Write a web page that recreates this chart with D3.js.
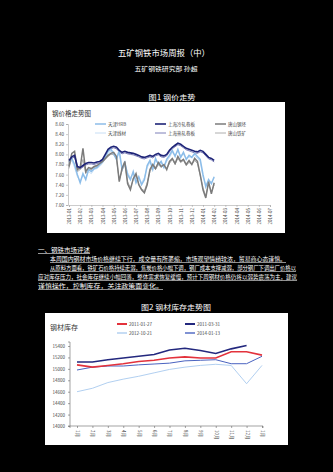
<!DOCTYPE html>
<html>
<head>
<meta charset="utf-8">
<script src="https://cdn.jsdelivr.net/npm/d3@7"></script>
<style>
body { margin: 0; background: #000; }
svg { display: block; }
text { font-family: "Noto Sans CJK SC", "Noto Sans", sans-serif; }
</style>
</head>
<body>
<div id="page"></div>
<script>
// ---- chart 1 data: weekly prices (log scale values) ----
const priceTicks = [8.6, 8.4, 8.2, 8.0, 7.8, 7.6, 7.4, 7.2, 7.0];
const monthLabels = ["2013-01","2013-02","2013-03","2013-04","2013-05","2013-06","2013-07","2013-08","2013-09","2013-10",
  "2013-11","2013-12","2014-01","2014-02","2014-03","2014-04","2014-05","2014-06","2014-07"];
const seriesNames = ["天津HRB", "上海冷轧卷板", "唐山钢坯", "天津线材", "上海热轧卷板", "唐山铁矿"];
const shanghaiCold = [7.88,7.95,7.98,7.76,7.74,7.78,7.82,7.84,7.84,7.83,7.85,7.86,7.90,8.00,8.10,8.14,8.16,8.14,8.08,8.04,
  8.06,8.04,8.03,8.02,8.00,7.98,7.95,7.94,7.96,7.98,7.96,8.00,8.02,7.98,7.97,8.00,8.08,8.14,8.18,8.22,
  8.20,8.16,8.12,8.10,8.08,8.06,8.05,8.08,8.06,8.00,7.94,7.92,7.88];
const shanghaiHot = [7.85,7.92,7.95,7.73,7.71,7.75,7.79,7.81,7.81,7.80,7.82,7.83,7.87,7.97,8.07,8.11,8.13,8.11,8.05,8.01,
  8.03,8.01,8.00,7.99,7.97,7.95,7.92,7.91,7.93,7.95,7.93,7.97,7.99,7.95,7.94,7.97,8.05,8.11,8.15,8.19,
  8.17,8.13,8.09,8.07,8.05,8.03,8.02,8.05,8.03,7.97,7.91,7.89,7.85];
const tianjinHRB = [7.84,7.92,7.80,7.60,7.44,7.62,7.50,7.70,7.66,7.72,7.74,7.80,7.86,7.96,8.06,8.10,8.02,7.90,8.08,7.70,
  7.84,7.60,7.50,7.66,7.44,7.56,7.40,7.50,7.78,7.88,7.70,7.92,7.80,7.86,7.74,7.90,7.98,8.08,7.96,8.10,
  7.94,8.04,7.90,7.98,7.94,8.02,7.96,7.90,7.60,7.36,7.50,7.42,7.56];
const tianjinWire = [7.80,7.88,7.74,7.56,7.48,7.58,7.54,7.66,7.62,7.70,7.72,7.76,7.82,7.92,8.02,8.06,7.98,7.94,8.02,7.74,
  7.80,7.64,7.54,7.62,7.48,7.52,7.44,7.54,7.74,7.84,7.74,7.88,7.84,7.82,7.78,7.86,7.94,8.04,7.98,8.06,
  7.98,8.00,7.92,7.94,7.96,7.98,7.92,7.86,7.56,7.40,7.46,7.46,7.52];
const tangshanBillet = [7.76,8.02,8.06,7.70,7.74,8.12,7.66,7.74,7.72,7.76,7.78,7.82,7.86,7.92,7.98,8.02,8.04,7.96,7.46,7.72,
  7.86,7.42,7.30,7.52,7.62,7.40,7.30,7.24,7.40,7.70,7.80,7.72,7.84,7.76,7.80,7.70,7.86,7.92,7.82,7.96,
  7.86,7.90,7.80,7.88,7.80,7.92,7.86,7.60,7.30,7.14,7.46,7.22,7.44];
const tangshanOre = [7.72,7.96,8.00,7.66,7.70,7.90,7.62,7.70,7.70,7.74,7.76,7.80,7.84,7.90,7.96,8.00,8.00,7.90,7.50,7.68,
  7.80,7.46,7.34,7.50,7.58,7.42,7.32,7.28,7.44,7.66,7.76,7.70,7.80,7.74,7.78,7.72,7.82,7.90,7.80,7.92,
  7.84,7.88,7.78,7.84,7.80,7.88,7.82,7.58,7.34,7.18,7.42,7.26,7.40];

// ---- chart 2 data: inventory ----
const stockTicks = [15400, 15200, 15000, 14800, 14600, 14400, 14200, 14000];
const stockCats = ["1月","2月","3月","4月","5月","6月","7月","8月","9月","10月","11月","12月","1月"];
const stockNames = ["2011-01-27", "2011-03-31", "2012-10-21", "2014-01-13"];
const stockA = [15070,15030,15060,15090,15130,15150,15190,15210,15190,15190,15300,15300,15240];
const stockB = [15120,15120,15160,15190,15220,15250,15330,15360,15320,15270,15350,15410];
const stockC = [14600,14660,14760,14820,14870,14930,14990,15030,15060,15080,15060,14740,15060];
const stockD = [14980,15030,15050,15050,15070,15085,15100,15140,15150,15160,15090,15090,15220];

const W = 333, H = 472;
const svg = d3.select("#page").append("svg").attr("width", W).attr("height", H);
svg.append("rect").attr("width", W).attr("height", H).attr("fill", "#000");

// header text
function txt(x, y, s, size, opts = {}) {
  const t = svg.append("text").attr("x", x).attr("y", y).text(s)
    .attr("font-size", size).attr("fill", opts.fill || "#fff")
    .attr("text-anchor", opts.anchor || "start");
  if (opts.len) t.attr("textLength", opts.len).attr("lengthAdjust", "spacingAndGlyphs");
  if (opts.bold) t.attr("font-weight", "bold");
  if (opts.underline) t.style("text-decoration", "underline");
  return t;
}
txt(164, 56, "五矿钢铁市场周报（中）", 8.5, { anchor: "middle", len: 92 });
txt(166, 71, "五矿钢铁研究部   孙超", 6, { anchor: "middle", len: 63 });
txt(172, 100, "图1   钢价走势", 7, { anchor: "middle", len: 47 });

// paragraph
txt(38, 252, "一、钢铁市场评述", 6, { len: 52, underline: true });
txt(50, 261, "本周国内钢材市场价格继续下行，成交量有所萎缩，市场观望情绪较浓，贸易商心态谨慎。", 5.6, { len: 236, underline: true });
txt(50, 270, "从原料方面看，铁矿石价格持续走弱，焦炭价格小幅下调，钢厂成本支撑减弱，部分钢厂下调出厂价格以", 5.6, { len: 246, underline: true });
txt(38, 279, "应对库存压力，社会库存继续小幅回落，整体需求恢复缓慢，预计下周钢材价格仍将以弱势震荡为主，建议", 5.6, { len: 259, underline: true });
txt(38, 288, "谨慎操作，控制库存，关注政策面变化。", 5.6, { len: 125, underline: true });
txt(176, 310, "图2   钢材库存走势图", 7, { anchor: "middle", len: 70 });

// ---------------- chart 1 ----------------
const c1 = svg.append("g");
c1.append("rect").attr("x", 47).attr("y", 102).attr("width", 238).attr("height", 131).attr("fill", "#fff");
c1.append("text").attr("x", 52).attr("y", 116).text("钢价格走势图").attr("font-size", 6.5).attr("fill", "#333");

const x1 = d3.scaleLinear().domain([0, monthLabels.length - 1]).range([69, 270]);
const y1 = d3.scaleLinear().domain([7.0, 8.6]).range([205, 124]);

const yAxis1 = c1.append("g").attr("transform", "translate(68,0)")
  .call(d3.axisLeft(y1).tickValues(priceTicks).tickFormat(d3.format(".2f")).tickSize(2).tickPadding(2));
yAxis1.selectAll("text").attr("font-size", 4.5).attr("fill", "#444");
yAxis1.selectAll("line,path").attr("stroke", "#999").attr("stroke-width", 0.5);

const xAxis1 = c1.append("g").attr("transform", "translate(0,205)")
  .call(d3.axisBottom(x1).tickValues(d3.range(monthLabels.length)).tickFormat(i => monthLabels[i]).tickSize(2));
xAxis1.selectAll("line,path").attr("stroke", "#999").attr("stroke-width", 0.5);
xAxis1.selectAll("text").attr("font-size", 4.5).attr("fill", "#444")
  .attr("text-anchor", "end").attr("transform", "rotate(-90)").attr("x", -3).attr("y", 0).attr("dy", "0.35em");

const line1 = d3.line().x((d, i) => x1(i / 4)).y(d => y1(d));
const series1 = [
  { v: tianjinWire, c: "#b9d6f2", w: 0.8 },
  { v: shanghaiHot, c: "#5b5ea6", w: 0.8 },
  { v: tangshanOre, c: "#9a9a9a", w: 0.8 },
  { v: tianjinHRB, c: "#8cbde9", w: 1.5 },
  { v: tangshanBillet, c: "#7b7b7b", w: 1.5 },
  { v: shanghaiCold, c: "#1d2377", w: 1.6 }
];
c1.selectAll("path.s").data(series1).join("path").attr("class", "s")
  .attr("d", d => line1(d.v)).attr("fill", "none")
  .attr("stroke", d => d.c).attr("stroke-width", d => d.w);

// legend chart 1
const leg1 = [
  { n: seriesNames[0], c: "#8cbde9", w: 1.5 },
  { n: seriesNames[1], c: "#1d2377", w: 1.6 },
  { n: seriesNames[2], c: "#7b7b7b", w: 1.5 },
  { n: seriesNames[3], c: "#b9d6f2", w: 0.8 },
  { n: seriesNames[4], c: "#5b5ea6", w: 0.8 },
  { n: seriesNames[5], c: "#9a9a9a", w: 0.8 }
];
const legX1 = [95, 155, 215], legY1 = [124, 133];
leg1.forEach((d, i) => {
  const lx = legX1[i % 3], ly = legY1[Math.floor(i / 3)];
  c1.append("line").attr("x1", lx).attr("x2", lx + 11).attr("y1", ly).attr("y2", ly)
    .attr("stroke", d.c).attr("stroke-width", d.w);
  c1.append("text").attr("x", lx + 13).attr("y", ly + 1.6).text(d.n)
    .attr("font-size", 4.5).attr("fill", "#444");
});

// ---------------- chart 2 ----------------
const c2 = svg.append("g");
c2.append("rect").attr("x", 45).attr("y", 313).attr("width", 243).attr("height", 132).attr("fill", "#fff");
c2.append("text").attr("x", 50).attr("y", 330).text("钢材库存").attr("font-size", 7).attr("fill", "#333");

const x2 = d3.scalePoint().domain(d3.range(stockCats.length)).range([77, 262]);
const y2 = d3.scaleLinear().domain([14000, 15400]).range([426, 346]);

const yAxis2 = c2.append("g").attr("transform", "translate(70,0)")
  .call(d3.axisLeft(y2).tickValues(stockTicks).tickFormat(d3.format("d")).tickSize(2).tickPadding(3));
yAxis2.select("path").attr("d", "M-2,342H0V426H-2");
yAxis2.selectAll("text").attr("font-size", 4.5).attr("fill", "#444");
yAxis2.selectAll("line,path").attr("stroke", "#666").attr("stroke-width", 0.6);

const xAxis2 = c2.append("g").attr("transform", "translate(0,426)")
  .call(d3.axisBottom(x2).tickFormat(i => stockCats[i]).tickSize(2));
xAxis2.select("path").attr("d", "M70,2V0H263V2");
xAxis2.selectAll("line,path").attr("stroke", "#666").attr("stroke-width", 0.6);
xAxis2.selectAll("text").attr("font-size", 4.5).attr("fill", "#444")
  .attr("text-anchor", "start").attr("transform", "rotate(90)").attr("x", 4).attr("y", 0).attr("dy", "0.35em");

const line2 = d3.line().x((d, i) => x2(i)).y(d => y2(d));
const series2 = [
  { n: stockNames[2], v: stockC, c: "#a8c9ee", w: 0.9 },
  { n: stockNames[3], v: stockD, c: "#4a63c0", w: 1.0 },
  { n: stockNames[0], v: stockA, c: "#e3323c", w: 1.6 },
  { n: stockNames[1], v: stockB, c: "#23287e", w: 1.6 }
];
c2.selectAll("path.s").data(series2).join("path").attr("class", "s")
  .attr("d", d => line2(d.v)).attr("fill", "none")
  .attr("stroke", d => d.c).attr("stroke-width", d => d.w);

const legX2 = [117, 185], legY2 = [324, 333];
const leg2 = [series2[2], series2[3], series2[0], series2[1]];
leg2.forEach((d, i) => {
  const lx = legX2[i % 2], ly = legY2[Math.floor(i / 2)];
  c2.append("line").attr("x1", lx).attr("x2", lx + 10).attr("y1", ly).attr("y2", ly)
    .attr("stroke", d.c).attr("stroke-width", d.w + 0.4);
  c2.append("text").attr("x", lx + 12).attr("y", ly + 1.6).text(d.n)
    .attr("font-size", 4.5).attr("fill", "#444");
});
</script>
</body>
</html>
